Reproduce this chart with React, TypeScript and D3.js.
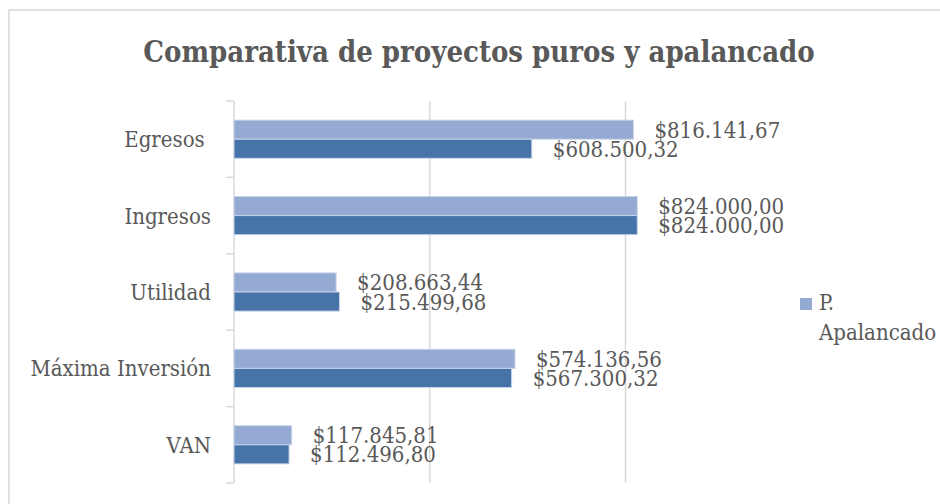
import React, { useEffect, useRef } from "react";
import * as d3 from "d3";

const categories = ["Egresos ", "Ingresos", "Utilidad", "Máxima Inversión", "VAN"];
const seriesNames = ["P. Apalancado", "P. Puro"];
const apalancado = [816141.67, 824000.0, 208663.44, 574136.56, 117845.81];
const puro = [608500.32, 824000.0, 215499.68, 567300.32, 112496.8];
const gridValues = [400000, 800000];
const chartTitle = "Comparativa de proyectos puros y apalancado";

const colors = ["#95aad2", "#4673a8"];
const textColor = "#595959";
const gridColor = "#d9d9d9";
const font = "'DejaVu Serif Condensed', 'DejaVu Serif', serif";

const App = () => {
  const svgRef = useRef<SVGSVGElement | null>(null);

  useEffect(() => {
    if (!svgRef.current) return;
    const svg = d3.select(svgRef.current);
    svg.selectAll("*").remove();

    const locale = d3.formatLocale({
      decimal: ",",
      thousands: ".",
      grouping: [3],
      currency: ["$", ""],
    });
    const fmt = locale.format("$,.2f");

    const left = 234;
    const top = 101;
    const bottom = 483;

    const x = d3.scaleLinear().domain([0, 1000000]).range([left, 723.4]);
    const y = d3
      .scaleBand<string>()
      .domain(categories)
      .range([top, bottom])
      .paddingInner(0.5)
      .paddingOuter(0.25);
    const sub = d3
      .scaleBand<string>()
      .domain(seriesNames)
      .range([0, y.bandwidth()]);

    // chart border
    svg
      .append("rect")
      .attr("x", 9)
      .attr("y", 10)
      .attr("width", 1000)
      .attr("height", 600)
      .attr("fill", "#fff")
      .attr("stroke", gridColor)
      .attr("stroke-width", 1.5);

    svg
      .append("text")
      .attr("x", 479)
      .attr("y", 62)
      .attr("text-anchor", "middle")
      .style("font-family", font)
      .style("font-stretch", "condensed")
      .style("font-weight", "bold")
      .style("font-size", "29px")
      .style("fill", textColor)
      .text(chartTitle);

    // gridlines
    svg
      .selectAll("line.grid")
      .data(gridValues)
      .enter()
      .append("line")
      .attr("class", "grid")
      .attr("x1", (d) => x(d))
      .attr("x2", (d) => x(d))
      .attr("y1", top)
      .attr("y2", bottom)
      .attr("stroke", gridColor)
      .attr("stroke-width", 1.5);

    // vertical category axis with ticks
    const axis = svg.append("g");
    axis
      .append("line")
      .attr("x1", x(0))
      .attr("x2", x(0))
      .attr("y1", top)
      .attr("y2", bottom)
      .attr("stroke", gridColor)
      .attr("stroke-width", 1.5);
    const tickYs = categories.map((c) => (y(c) as number) - (y.step() - y.bandwidth()) / 2);
    tickYs.push(bottom);
    axis
      .selectAll("line.tick")
      .data(tickYs)
      .enter()
      .append("line")
      .attr("x1", x(0) - 8)
      .attr("x2", x(0))
      .attr("y1", (d) => d)
      .attr("y2", (d) => d)
      .attr("stroke", gridColor)
      .attr("stroke-width", 1.5);

    axis
      .selectAll("text")
      .data(categories)
      .enter()
      .append("text")
      .attr("x", x(0) - 23)
      .attr("y", (d) => (y(d) as number) + y.bandwidth() / 2 + 8)
      .attr("text-anchor", "end")
      .style("white-space", "pre")
      .style("font-family", font)
      .style("font-stretch", "condensed")
      .style("font-size", "22px")
      .style("fill", textColor)
      .text((d) => d);

    const series = [apalancado, puro];
    series.forEach((values, i) => {
      const g = svg.append("g");
      g.selectAll("rect")
        .data(values)
        .enter()
        .append("rect")
        .attr("x", x(0))
        .attr("y", (_, j) => (y(categories[j]) as number) + (sub(seriesNames[i]) as number))
        .attr("width", (d) => x(d) - x(0))
        .attr("height", sub.bandwidth())
        .attr("fill", colors[i])
        .attr("stroke", "#c9d4ea")
        .attr("stroke-width", 1);

      g.selectAll("text")
        .data(values)
        .enter()
        .append("text")
        .attr("x", (d) => x(d) + 21)
        .attr(
          "y",
          (_, j) =>
            (y(categories[j]) as number) +
            (sub(seriesNames[i]) as number) +
            sub.bandwidth() / 2 +
            8
        )
        .style("font-family", font)
        .style("font-stretch", "condensed")
        .style("font-size", "22px")
        .style("fill", textColor)
        .text((d) => fmt(d));
    });

    // legend (only first entry visible)
    const legend = svg.append("g");
    legend
      .append("rect")
      .attr("x", 800)
      .attr("y", 298)
      .attr("width", 12)
      .attr("height", 12)
      .attr("fill", colors[0]);
    legend
      .selectAll("text")
      .data(seriesNames[0].split(" "))
      .enter()
      .append("text")
      .attr("x", 819)
      .attr("y", (_, k) => 310 + k * 30)
      .style("font-family", font)
      .style("font-stretch", "condensed")
      .style("font-size", "22px")
      .style("fill", textColor)
      .text((d) => d);
  }, []);

  return (
    <svg
      ref={svgRef}
      width={940}
      height={504}
      style={{ position: "absolute", left: 0, top: 0, background: "#fff" }}
    />
  );
};

export default App;
